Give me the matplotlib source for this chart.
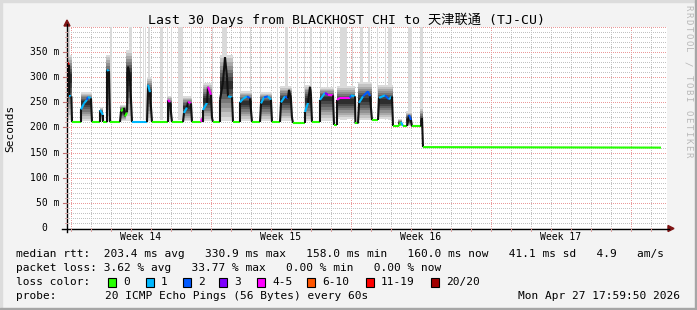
import numpy as np
import matplotlib
matplotlib.use("Agg")
import matplotlib.pyplot as plt
from matplotlib.collections import LineCollection
from matplotlib.patches import Rectangle, Polygon
from matplotlib.lines import Line2D
import matplotlib.transforms as mtransforms

# ---------------- data ----------------
title = "Last 30 Days from BLACKHOST CHI to 天津联通 (TJ-CU)"
week_labels = ["Week 14", "Week 15", "Week 16", "Week 17"]
week_label_days = [3.7, 10.7, 17.7, 24.7]
week_start_days = [0.2, 7.2, 14.2, 21.2, 28.2]
y_ticks = [0, 50, 100, 150, 200, 250, 300, 350]
y_tick_labels = ["0  ", "50 m", "100 m", "150 m", "200 m", "250 m", "300 m", "350 m"]

loss_labels = ["0", "1", "2", "3", "4-5", "6-10", "11-19", "20/20"]
loss_colors = ["#26ff00", "#00b8ff", "#0059ff", "#7e00ff", "#ff00ff", "#ff5500", "#ff0000", "#a10000"]

# median rtt (days since start of graph, ms) and loss class of the following segment
med_t = [0.00, 0.00, 0.10, 0.12, 0.22, 0.25, 0.70, 0.70, 0.85, 1.00,
         1.05, 1.20, 1.25, 1.65, 1.65, 1.80, 1.80, 2.00, 2.00, 2.10,
         2.15, 2.65, 2.70, 2.85, 2.90, 3.00, 3.05, 3.15, 3.25, 4.00,
         4.05, 4.15, 4.25, 5.05, 5.05, 5.15, 5.25, 5.80, 5.85, 6.00,
         6.05, 6.20, 6.25, 6.70, 6.75, 6.80, 6.80, 7.00, 7.05, 7.20,
         7.25, 7.30, 7.65, 7.65, 7.80, 7.90, 8.00, 8.05, 8.25, 8.30,
         8.65, 8.65, 8.80, 9.00, 9.15, 9.25, 9.65, 9.70, 9.85, 10.05,
         10.20, 10.25, 10.65, 10.70, 10.90, 11.05, 11.10, 11.20, 11.25, 11.30,
         11.90, 11.90, 12.05, 12.15, 12.20, 12.25, 12.65, 12.65, 12.90, 13.05,
         13.30, 13.35, 13.50, 13.50, 13.65, 14.15, 14.20, 14.40, 14.42, 14.55,
         14.60, 14.80, 15.05, 15.15, 15.25, 15.55, 15.60, 15.90, 16.10, 16.25,
         16.30, 16.60, 16.70, 16.80, 17.00, 17.10, 17.20, 17.25, 17.70, 17.75,
         17.80, 29.70]
med_v = [262, 330, 325, 262, 262, 211, 211, 236, 248, 255,
         261, 258, 211, 211, 235, 225, 211, 211, 315, 312,
         211, 211, 232, 239, 222, 230, 321, 300, 211, 211,
         285, 270, 211, 211, 255, 250, 211, 211, 229, 240,
         251, 248, 211, 211, 218, 211, 235, 249, 281, 265,
         219, 211, 211, 255, 290, 340, 300, 262, 260, 211,
         211, 250, 257, 262, 258, 211, 211, 248, 260, 262,
         255, 211, 211, 250, 262, 258, 275, 255, 219, 209,
         209, 231, 249, 281, 262, 211, 211, 255, 269, 265,
         264, 205, 205, 255, 259, 259, 264, 262, 208, 208,
         249, 262, 272, 262, 215, 215, 259, 264, 256, 262,
         203, 203, 211, 203, 203, 225, 215, 202, 202, 219,
         161, 160]
med_loss = [1, 6, 1, 1, 1, 0, 1, 1, 1, 2,
            1, 1, 0, 1, 1, 1, 0, 1, 1, 1,
            0, 0, 0, 1, 0, 1, 4, 1, 1, 0,
            1, 4, 0, 1, 4, 1, 0, 1, 1, 4,
            4, 1, 0, 4, 4, 1, 1, 4, 4, 4,
            0, 0, 1, 1, 3, 3, 2, 1, 1, 0,
            1, 1, 1, 2, 1, 0, 1, 1, 2, 1,
            1, 0, 1, 1, 2, 1, 2, 1, 1, 0,
            0, 1, 1, 4, 1, 0, 1, 1, 3, 4,
            4, 0, 1, 4, 4, 2, 1, 1, 0, 0,
            1, 2, 2, 1, 0, 0, 1, 2, 1, 2,
            0, 0, 1, 0, 0, 2, 1, 0, 0, 4,
            0, 0]

# smoke (ping spread) blocks: start, end, lowest ping, densest, highest ping (ms)
smoke_t0 = [0.00, 0.70, 1.65, 1.95, 2.65, 2.95, 4.00, 5.00, 5.80, 6.80, 7.65,
            8.65, 9.65, 10.65, 11.90, 12.65, 13.50, 14.55, 15.55, 16.55, 16.95, 17.65]
smoke_t1 = [0.25, 1.25, 1.80, 2.15, 3.00, 3.25, 4.25, 5.25, 6.25, 7.25, 8.30,
            9.25, 10.25, 11.25, 12.25, 13.35, 14.40, 15.25, 16.30, 16.75, 17.25, 17.80]
smoke_lo = [215, 213, 212, 212, 212, 212, 212, 212, 212, 212, 212,
            213, 213, 213, 212, 213, 216, 214, 216, 203, 203, 203]
smoke_core = [300, 250, 228, 300, 232, 305, 268, 245, 240, 255, 285,
              250, 250, 255, 255, 258, 252, 255, 252, 208, 214, 212]
smoke_hi = [345, 270, 240, 345, 245, 355, 300, 262, 262, 288, 345,
            272, 270, 282, 285, 280, 282, 290, 285, 216, 232, 240]

# outlier pings reaching the top of the graph
spike_t = [0.05, 2.15, 3.10, 3.65, 3.80, 3.90, 4.05, 4.65, 5.00, 5.20,
           5.55, 6.20, 6.65, 6.80, 7.25, 7.75, 8.65, 9.15, 9.65, 10.50,
           10.90, 11.50, 11.85, 12.15, 12.65, 13.00, 13.30, 13.65, 14.25, 14.65,
           15.05, 15.50, 15.90, 16.05, 17.05, 17.65]
spike_w = [0.10, 0.10, 0.15, 0.05, 0.05, 0.05, 0.10, 0.15, 0.05, 0.05,
           0.25, 0.05, 0.05, 0.05, 0.05, 0.25, 0.05, 0.05, 0.05, 0.05,
           0.15, 0.05, 0.05, 0.10, 0.05, 0.05, 0.05, 0.35, 0.05, 0.15,
           0.10, 0.05, 0.05, 0.20, 0.20, 0.15]
spike_base = 215

legend_rtt = "median rtt:  203.4 ms avg   330.9 ms max   158.0 ms min   160.0 ms now   41.1 ms sd   4.9   am/s"
legend_loss = "packet loss: 3.62 % avg   33.77 % max   0.00 % min   0.00 % now"
probe_text = "20 ICMP Echo Pings (56 Bytes) every 60s"
stamp_text = "Mon Apr 27 17:59:50 2026"
credit = "RRDTOOL / TOBI OETIKER"

# ---------------- figure ----------------
W, H = 697, 310
MONO = "DejaVu Sans Mono"
fig = plt.figure(figsize=(W / 100, H / 100), dpi=100, facecolor="#f3f3f3")


def fx(px):
    return px / W


def fy(py):
    return 1 - py / H


# frame
fig.patches.append(Rectangle((0, fy(2)), 1, 2 / H, transform=fig.transFigure, color="#dcdcdc", zorder=0))
fig.patches.append(Rectangle((0, 0), 2 / W, 1, transform=fig.transFigure, color="#dcdcdc", zorder=0))
fig.patches.append(Rectangle((0, 0), 1, 2 / H, transform=fig.transFigure, color="#a6a6a6", zorder=0))
fig.patches.append(Rectangle((fx(695), 0), 2 / W, 1, transform=fig.transFigure, color="#a6a6a6", zorder=0))

top_px, bot_px = 27, 228
ax = fig.add_axes([fx(67), fy(bot_px), 600 / W, (bot_px - top_px) / H])
ax.set_xlim(0, 30)
ax.set_ylim(0, 400)
ax.set_facecolor("white")
for s in ax.spines.values():
    s.set_visible(False)
ax.set_xticks([])
ax.set_yticks([])

dot = (0.5, (1, 1))
# grid
for d in range(30):
    x = 0.2 + d
    major = any(abs(x - w) < 1e-6 for w in week_start_days)
    ax.axvline(x, color="#eb9a9a" if major else "#c2c2c2", lw=0.72, ls=dot, zorder=1)
for v in range(10, 401, 10):
    ax.axhline(v, color="#eb9a9a" if v % 50 == 0 else "#c2c2c2", lw=0.72, ls=dot, zorder=1)

# outlier spikes
ax.bar(spike_t, [400 - spike_base] * len(spike_t), bottom=spike_base, width=spike_w,
       align="edge", color="#dadada", linewidth=0, zorder=2)

# smoke
N = 8
grays = np.linspace(0.86, 0.18, N)
for x0, x1, lo, core, hi in zip(smoke_t0, smoke_t1, smoke_lo, smoke_core, smoke_hi):
    for k in range(N):
        f = k / N
        ylo = lo + (core - lo) * f
        yhi = hi - (hi - core) * f
        g = grays[k]
        ax.fill_between([x0, x1], [ylo, ylo], [yhi, yhi], color=(g, g, g), linewidth=0, zorder=3)

# median line coloured by loss
segs, cols = [], []
for i in range(len(med_t) - 1):
    t0, t1 = med_t[i], med_t[i + 1]
    v0, v1 = med_v[i], med_v[i + 1]
    segs.append([(t0, v0), (t1, v1)])
    steep = abs(v1 - v0) / max(t1 - t0, 1e-6) > 150
    cols.append("#111111" if steep else loss_colors[med_loss[i]])
ax.add_collection(LineCollection(segs, colors=cols, linewidths=1.5, capstyle="butt", zorder=4))

# axes lines and arrows
fig.add_artist(Line2D([fx(62), fx(669)], [fy(bot_px + 0.5), fy(bot_px + 0.5)], color="black", lw=1.0))
fig.add_artist(Line2D([fx(67), fx(67)], [fy(232), fy(24)], color="black", lw=1.0))
fig.add_artist(Polygon([(fx(668), fy(225.5)), (fx(674), fy(bot_px + 0.5)), (fx(668), fy(231.5))],
                       closed=True, transform=fig.transFigure, color="#7f1414"))
fig.add_artist(Polygon([(fx(64), fy(26)), (fx(67), fy(20)), (fx(70), fy(26))],
                       closed=True, transform=fig.transFigure, color="#7f1414"))

# y ticks
ytr = mtransforms.blended_transform_factory(fig.transFigure, ax.transData)
for v in range(10, 400, 10):
    if v % 50 == 0:
        fig.add_artist(Line2D([fx(63), fx(67)], [v, v], transform=ytr, color="#c07070", lw=0.8))
    else:
        fig.add_artist(Line2D([fx(65), fx(67)], [v, v], transform=ytr, color="#d8a0a0", lw=0.7))
for v, lab in zip(y_ticks, y_tick_labels):
    fig.text(fx(59.5), v, lab, transform=ytr, ha="right", va="center", fontsize=7, family=MONO)

# x labels
xtr = mtransforms.blended_transform_factory(ax.transData, fig.transFigure)
for d in range(30):
    x = 0.2 + d
    fig.add_artist(Line2D([x, x], [fy(bot_px), fy(231)], transform=xtr, color="#d8a0a0", lw=0.7))
for d, lab in zip(week_label_days, week_labels):
    fig.text(d, fy(237.5), lab, transform=xtr, ha="center", va="center", fontsize=7, family=MONO)

# titles
fig.text(fx(347), fy(20), title, ha="center", va="center", fontsize=9.5,
         family=[MONO, "Noto Sans CJK SC"])
fig.text(fx(10), fy(128), "Seconds", rotation=90, ha="center", va="center", fontsize=8, family=MONO)
for i, ch in enumerate(credit):
    fig.text(fx(688), fy(8 + 7 * i), ch, rotation=270, ha="center", va="center",
             fontsize=6.5, color="#b8b8b8", family=MONO)

# legend
FS = 8.05
ly = [254, 268, 282, 296]
fig.text(fx(16), fy(ly[0]), legend_rtt, ha="left", va="center", fontsize=FS, family=MONO)
fig.text(fx(16), fy(ly[1]), legend_loss, ha="left", va="center", fontsize=FS, family=MONO)
fig.text(fx(16), fy(ly[2]), "loss color:", ha="left", va="center", fontsize=FS, family=MONO)
box_px = [108, 146, 183, 219, 257, 307, 366, 431]
for lab, col, bx in zip(loss_labels, loss_colors, box_px):
    fig.patches.append(Rectangle((fx(bx), fy(286.5)), 8 / W, 8.5 / H, transform=fig.transFigure,
                                 facecolor=col, edgecolor="black", lw=0.8))
    fig.text(fx(bx + 15), fy(ly[2]), lab, ha="left", va="center", fontsize=FS, family=MONO)
fig.text(fx(16), fy(ly[3]), "probe:", ha="left", va="center", fontsize=FS, family=MONO)
fig.text(fx(105), fy(ly[3]), probe_text, ha="left", va="center", fontsize=FS, family=MONO)
fig.text(fx(680), fy(ly[3]), stamp_text, ha="right", va="center", fontsize=FS, family=MONO)

fig.savefig("out.png", dpi=100, facecolor=fig.get_facecolor())
